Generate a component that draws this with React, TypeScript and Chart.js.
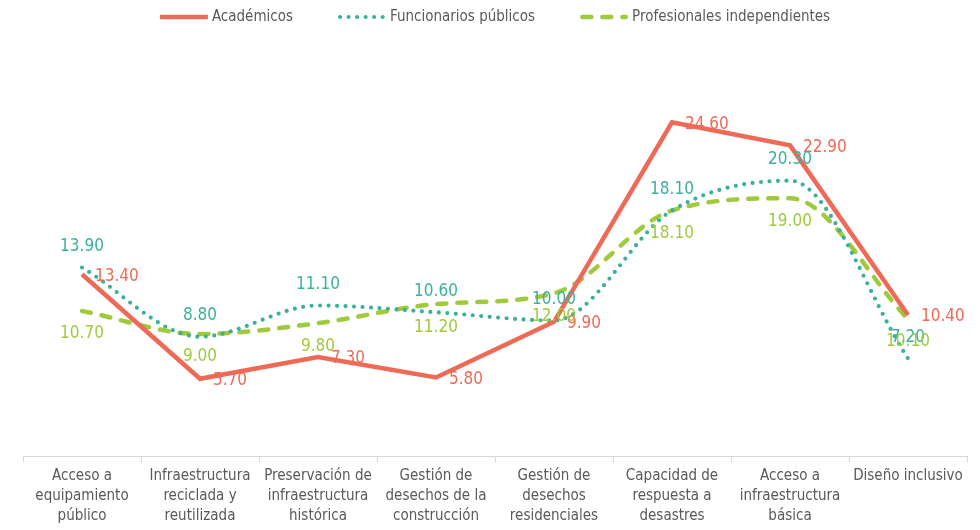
import React, { useEffect, useRef } from "react";
import { Chart, registerables } from "chart.js";

Chart.register(...registerables);

const categories: string[][] = [
  ["Acceso a", "equipamiento", "público"],
  ["Infraestructura", "reciclada y", "reutilizada"],
  ["Preservación de", "infraestructura", "histórica"],
  ["Gestión de", "desechos de la", "construcción"],
  ["Gestión de", "desechos", "residenciales"],
  ["Capacidad de", "respuesta a", "desastres"],
  ["Acceso a", "infraestructura", "básica"],
  ["Diseño inclusivo"],
];

const academicos = [13.4, 5.7, 7.3, 5.8, 9.9, 24.6, 22.9, 10.4];
const funcionarios = [13.9, 8.8, 11.1, 10.6, 10.0, 18.1, 20.3, 7.2];
const profesionales = [10.7, 9.0, 9.8, 11.2, 12.0, 18.1, 19.0, 10.1];

const RED = "#EE6A56";
const TEAL = "#3BB09B";
const LIME = "#9FCA3C";
const FONT = "'Liberation Sans Narrow', 'DejaVu Sans Condensed', 'Open Sans', sans-serif";

const labelOffsets = [
  { dx: 13, dy: 2, align: "left" as CanvasTextAlign },
  { dx: 0, dy: -21, align: "center" as CanvasTextAlign },
  { dx: 0, dy: 23, align: "center" as CanvasTextAlign },
];

const dataLabelPlugin = {
  id: "dataLabels",
  afterDatasetsDraw(chart: any) {
    const ctx = chart.ctx;
    ctx.save();
    ctx.font = `17px ${FONT}`;
    ctx.textBaseline = "middle";
    chart.data.datasets.forEach((ds: any, i: number) => {
      const meta = chart.getDatasetMeta(i);
      const off = labelOffsets[i];
      ctx.fillStyle = ds.borderColor;
      ctx.textAlign = off.align;
      meta.data.forEach((pt: any, j: number) => {
        const v = ds.data[j] as number;
        ctx.fillText(v.toFixed(2), pt.x + off.dx, pt.y + off.dy);
      });
    });
    ctx.restore();
  },
};

const customLegendPlugin = {
  id: "customLegend",
  afterDraw(chart: any) {
    const ctx = chart.ctx;
    const sampleW = 48;
    const textGap = 4;
    const itemGap = 45;
    const y = 17;
    ctx.save();
    ctx.font = `15px ${FONT}`;
    ctx.textBaseline = "middle";
    const items = chart.data.datasets.map((ds: any) => ({
      ds,
      w: sampleW + textGap + ctx.measureText(ds.label).width,
    }));
    const total = items.reduce((a: number, it: any) => a + it.w, 0) + itemGap * (items.length - 1);
    const center = (chart.chartArea.left + chart.chartArea.right) / 2;
    let x = center - total / 2;
    items.forEach((it: any) => {
      const ds = it.ds;
      ctx.beginPath();
      ctx.strokeStyle = ds.borderColor;
      ctx.lineWidth = ds.borderWidth;
      ctx.lineCap = ds.borderCapStyle || "butt";
      ctx.setLineDash(ds.borderDash || []);
      const inset = ds.borderCapStyle === "round" ? ds.borderWidth / 2 : 0;
      ctx.moveTo(x + inset, y);
      ctx.lineTo(x + sampleW - inset, y);
      ctx.stroke();
      ctx.setLineDash([]);
      ctx.fillStyle = "#595959";
      ctx.textAlign = "left";
      ctx.fillText(ds.label, x + sampleW + textGap, y);
      x += it.w + itemGap;
    });
    ctx.restore();
  },
};

export default function App() {
  const ref = useRef<HTMLCanvasElement>(null);
  useEffect(() => {
    document.body.style.margin = "0";
    const chart = new Chart(ref.current!, {
      type: "line",
      data: {
        labels: categories,
        datasets: [
          {
            label: "Académicos",
            data: academicos,
            borderColor: RED,
            backgroundColor: RED,
            borderWidth: 4.5,
            pointRadius: 0,
            tension: 0,
          },
          {
            label: "Funcionarios públicos",
            data: funcionarios,
            borderColor: TEAL,
            backgroundColor: TEAL,
            borderWidth: 4.2,
            borderDash: [0, 8.5],
            borderCapStyle: "round",
            pointRadius: 0,
            cubicInterpolationMode: "monotone",
            tension: 0.3,
          },
          {
            label: "Profesionales independientes",
            data: profesionales,
            borderColor: LIME,
            backgroundColor: LIME,
            borderWidth: 4.5,
            borderDash: [9, 11],
            borderCapStyle: "round",
            pointRadius: 0,
            cubicInterpolationMode: "monotone",
            tension: 0.3,
          },
        ],
      },
      options: {
        responsive: false,
        animation: false,
        layout: { padding: { left: 23, right: 13, top: 49, bottom: 0 } },
        plugins: {
          legend: { display: false },
          tooltip: { enabled: false },
        },
        scales: {
          x: {
            offset: true,
            grid: {
              offset: true,
              drawOnChartArea: false,
              drawTicks: true,
              tickLength: 6,
              color: "#D9D9D9",
            },
            border: { color: "#D9D9D9", width: 1 },
            ticks: {
              color: "#595959",
              font: { family: FONT, size: 15, lineHeight: 1.33 },
              maxRotation: 0,
              autoSkip: false,
              padding: 4,
            },
          },
          y: {
            display: false,
            min: 0,
            max: 30,
          },
        },
      },
      plugins: [dataLabelPlugin, customLegendPlugin],
    });
    return () => chart.destroy();
  }, []);
  return (
    <div style={{ position: "absolute", left: 0, top: 0, width: 980, height: 530 }}>
      <canvas ref={ref} width={980} height={530} />
    </div>
  );
}
